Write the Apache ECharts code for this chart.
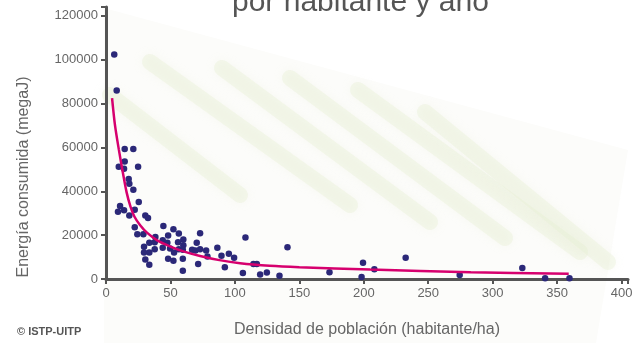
<!DOCTYPE html>
<html>
<head>
<meta charset="utf-8">
<script src="https://cdn.jsdelivr.net/npm/echarts@6/dist/echarts.min.js"></script>
<style>
  html, body { margin: 0; padding: 0; background: #fff; }
  #chart { width: 637px; height: 343px; }
</style>
</head>
<body>
<div id="chart"></div>
<script>
// densidad (habitante/ha) y energía (megaJ)
const densidad = [
  6.4, 8.3, 14.5, 21.2, 14.5, 9.9, 14, 24.9, 17.6, 18.1,
  21.2, 25.4, 10.9, 9.3, 14, 18.1, 22.3, 30.5, 32.6, 22.3,
  24.3, 29, 44.5, 52.3, 56.5, 38.3, 48.2, 60, 73, 33.6,
  44, 47.6, 55.9, 70.4, 29.5, 37.8, 44, 60, 49.7, 29.5,
  33.6, 37.8, 52.8, 56.5, 59.6, 66.8, 69.4, 73, 77.7, 86.4,
  78.7, 89.6, 95.3, 99.4, 30.5, 48.2, 52.3, 59.6, 33.6, 71.5,
  92.2, 59.6, 108.2, 106.2, 114.4, 117, 119.6, 124.8, 134.6, 140.8,
  173.4, 199.4, 198.3, 208.2, 232.5, 274.4, 323, 340.7, 359.6
];
const energia = [
  102400, 85900, 59300, 59300, 53600, 51200, 50300, 51200, 45600, 43400,
  40700, 35100, 33300, 30700, 31300, 28900, 31600, 28900, 27800, 23600,
  20400, 20400, 24200, 22700, 20700, 19200, 19800, 18000, 20900, 16500,
  17700, 16500, 16800, 16500, 14700, 16800, 14200, 15400, 13900, 12100,
  12100, 13600, 12100, 13600, 13300, 13300, 13000, 13600, 13000, 14200,
  10300, 10600, 11500, 9700, 8900, 9200, 8300, 9200, 6500, 6800,
  5300, 3800, 18900, 2700, 6800, 6800, 2100, 3000, 1500, 14500,
  3100, 7400, 900, 4400, 9700, 1800, 5000, 300, 300
];

// curva de ajuste
const curvaX = [4.7, 7, 9.9, 13, 16, 19, 22, 26.5, 32, 40, 50, 60, 73, 88, 104, 127, 150, 205, 283, 359];
const curvaY = [82500, 70000, 59200, 48800, 39500, 33000, 28500, 24500, 21000, 17500, 14800, 12600, 10500, 8600, 7200, 6050, 5400, 4300, 3100, 2350];

const xTicks = [0, 50, 100, 150, 200, 250, 300, 350, 400];
const yTicks = [0, 20000, 40000, 60000, 80000, 100000, 120000];

const chart = echarts.init(document.getElementById('chart'), null, { renderer: 'canvas' });

const axisGray = '#555555';
const textGray = '#666666';
const font = 'Liberation Sans, Arial, sans-serif';

// franjas verdes decorativas
const bands = [
  [110, 95, 240, 195],
  [150, 62, 350, 205],
  [222, 68, 430, 222],
  [290, 78, 505, 238],
  [358, 90, 580, 252],
  [425, 112, 608, 262]
];

option = {
  animation: false,
  backgroundColor: '#ffffff',
  grid: { left: 106, top: 7, width: 522, height: 280 },
  xAxis: {
    type: 'value',
    min: 0,
    max: 405,
    interval: 50,
    name: 'Densidad de población (habitante/ha)',
    nameLocation: 'middle',
    nameGap: 43,
    nameTextStyle: { color: textGray, fontSize: 16, fontFamily: font },
    axisLine: { show: true, lineStyle: { color: axisGray, width: 3 } },
    axisTick: { show: true, length: 5, lineStyle: { color: axisGray, width: 2 } },
    axisLabel: {
      color: textGray, fontSize: 13, fontFamily: font, margin: 8,
      formatter: v => (xTicks.indexOf(v) >= 0 ? String(v) : '')
    },
    splitLine: { show: false }
  },
  yAxis: {
    type: 'value',
    min: 0,
    max: 124000,
    interval: 20000,
    axisLine: { show: true, lineStyle: { color: axisGray, width: 3 } },
    axisTick: { show: true, length: 5, lineStyle: { color: axisGray, width: 2 } },
    axisLabel: {
      color: textGray, fontSize: 13, fontFamily: font, margin: 8,
      formatter: v => (yTicks.indexOf(v) >= 0 ? String(v) : '')
    },
    splitLine: { show: false }
  },
  graphic: [
    {
      type: 'polygon',
      z: -20,
      silent: true,
      shape: { points: [[104, 8], [628, 150], [596, 343], [104, 343]] },
      style: { fill: '#fcfcfa' }
    },
    ...bands.map(b => ({
      type: 'line',
      z: -10,
      silent: true,
      shape: { x1: b[0], y1: b[1], x2: b[2], y2: b[3] },
      style: {
        stroke: 'rgba(228,237,210,0.35)',
        lineWidth: 16,
        lineCap: 'round',
        shadowBlur: 10,
        shadowColor: 'rgba(224,234,206,0.5)'
      }
    })),
    {
      type: 'text',
      left: 232,
      top: -12,
      style: { text: 'por habitante y año', fill: '#555555', fontSize: 30, fontFamily: font }
    },
    {
      type: 'text',
      x: 24,
      y: 177,
      rotation: Math.PI / 2,
      style: {
        text: 'Energía consumida (megaJ)', fill: textGray, fontSize: 16, fontFamily: font,
        align: 'center', verticalAlign: 'middle'
      }
    },
    {
      type: 'text',
      left: 17,
      top: 326,
      style: { text: '© ISTP-UITP', fill: '#555555', fontSize: 11, fontWeight: 'bold', fontFamily: font }
    }
  ],
  series: [
    {
      type: 'scatter',
      data: densidad.map((x, i) => [x, energia[i]]),
      symbolSize: 6.5,
      itemStyle: { color: '#2b2878', opacity: 1 },
      z: 3
    },
    {
      type: 'line',
      data: curvaX.map((x, i) => [x, curvaY[i]]),
      smooth: 0.3,
      showSymbol: false,
      lineStyle: { color: '#d6006e', width: 2.5 },
      z: 4
    }
  ]
};

chart.setOption(option);
</script>
</body>
</html>
